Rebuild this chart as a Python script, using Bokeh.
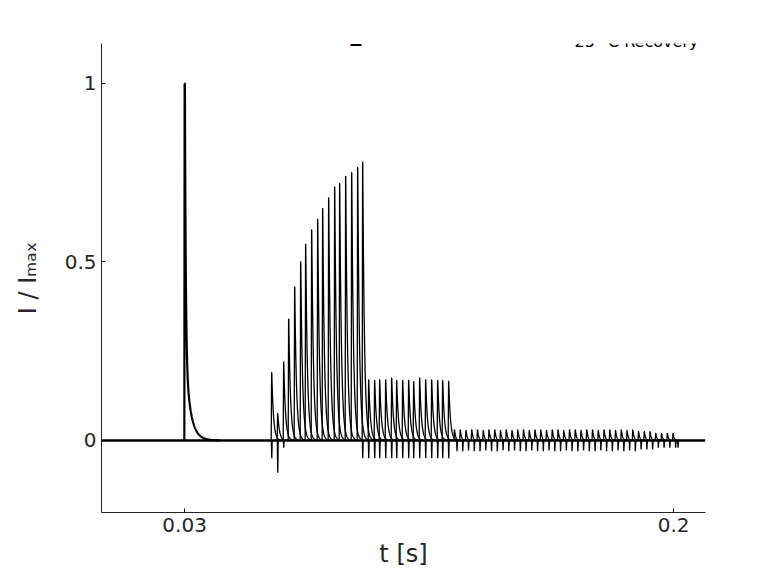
import numpy as np
from bokeh.plotting import figure
from bokeh.models import Label, FixedTicker
from bokeh.embed import file_html
from bokeh.resources import INLINE

# main (conditioning) pulse
main_time = [0.0300]
main_peak = [1.0]
# recovery test pulse peaks
rec_times = [0.06025, 0.06233, 0.06442, 0.06616, 0.06824, 0.07033, 0.07206, 0.07415, 0.07624,
             0.07797, 0.08006, 0.08215, 0.08388, 0.08597, 0.08806, 0.09014, 0.09188]
rec_peaks = [0.19, 0.076, 0.22, 0.34, 0.43, 0.50, 0.55, 0.59, 0.62,
             0.65, 0.68, 0.71, 0.72, 0.74, 0.75, 0.765, 0.78]
# second group of test pulses
sec_times = [0.09397, 0.09605, 0.09779, 0.09988, 0.10196, 0.1037, 0.10579, 0.10787,
             0.10961, 0.1117, 0.11378, 0.11587, 0.11796, 0.11969, 0.12178]
sec_peaks = [0.17, 0.168, 0.17, 0.17, 0.175, 0.168, 0.168, 0.168,
             0.165, 0.175, 0.17, 0.17, 0.168, 0.168, 0.166]
# negative transients
neg_times = [0.06025, 0.06233, 0.06442, 0.09188, 0.09397, 0.09605, 0.09779, 0.09988, 0.10196,
             0.1037, 0.10579, 0.10787, 0.10961, 0.1117, 0.11378, 0.11587, 0.11796, 0.11969,
             0.12178, 0.2015]
neg_peaks = [-0.05, -0.09, -0.02, -0.05, -0.05, -0.05, -0.05, -0.05, -0.05,
             -0.05, -0.05, -0.05, -0.05, -0.05, -0.05, -0.05, -0.05, -0.05,
             -0.05, -0.02]
# small late transients
small_times = [0.1238, 0.1258, 0.1278, 0.1298, 0.1318, 0.1338, 0.1358, 0.1378, 0.1398, 0.1418,
               0.1438, 0.1458, 0.1478, 0.1498, 0.1518, 0.1538, 0.1558, 0.1578, 0.1598, 0.1618,
               0.1638, 0.1658, 0.1678, 0.1698, 0.1718, 0.1738, 0.1758, 0.1778, 0.1798, 0.1818,
               0.1838, 0.1858, 0.1878, 0.1898, 0.1918, 0.1938, 0.1958, 0.1978, 0.1998]
small_peaks = [0.03, 0.03, 0.028, 0.03, 0.03, 0.028, 0.03, 0.03, 0.028, 0.03,
               0.028, 0.03, 0.03, 0.028, 0.03, 0.03, 0.028, 0.03, 0.03, 0.028,
               0.03, 0.03, 0.028, 0.03, 0.03, 0.028, 0.03, 0.03, 0.028, 0.03,
               0.028, 0.03, 0.025, 0.025, 0.025, 0.02, 0.02, 0.02, 0.02]

x_ticks = [0.03, 0.2]
y_ticks = [0, 0.5, 1]

p = figure(width=770, height=575, output_backend="svg", toolbar_location=None,
           x_range=(0.0011, 0.2111), y_range=(-0.2017, 1.112),
           min_border_left=101, min_border_right=65, min_border_top=43, min_border_bottom=63)
p.outline_line_color = None
p.grid.visible = False

def spike(t, pk, tau):
    tt = np.linspace(0, 6 * tau, 40)
    xs = [t - 0.00015, t] + list(t + tt + 0.00005)
    ys = [0.0, pk] + list(pk * np.exp(-tt / tau))
    return xs, ys

xs, ys = [], []
for t, pk in zip(rec_times + sec_times, rec_peaks + sec_peaks):
    a, b = spike(t, pk, 0.0006)
    xs.append(a); ys.append(b)
for t, pk in zip(small_times, small_peaks):
    a, b = spike(t, pk, 0.0004)
    xs.append(a); ys.append(b)
    xs.append([t + 0.0008, t + 0.0009, t + 0.0011]); ys.append([0, -pk, 0])
for t, pk in zip(neg_times, neg_peaks):
    xs.append([t - 0.0001, t + 0.00005, t + 0.0002]); ys.append([0, pk, 0])

p.line([0.0011, 0.2111], [0, 0], line_color="black", line_width=2.5)
p.multi_line(xs, ys, line_color="black", line_width=1.3)
t0, pk0 = main_time[0], main_peak[0]
tt = np.linspace(0, 0.012, 200)
mx = [t0 - 0.0001, t0] + list(t0 + tt + 0.0001)
my = [0.0, pk0] + list(pk0 * (0.75 * np.exp(-tt / 0.0003) + 0.25 * np.exp(-tt / 0.0018)))
p.line(mx, my, line_color="black", line_width=2.2)

p.xaxis.ticker = FixedTicker(ticks=x_ticks)
p.yaxis.ticker = FixedTicker(ticks=y_ticks)
p.xaxis.major_label_overrides = {0.03: "0.03", 0.2: "0.2"}
p.yaxis.major_label_overrides = {0: "0", 0.5: "0.5", 1: "1"}
for ax in (p.xaxis, p.yaxis):
    ax.major_label_text_font = "DejaVu Sans"
    ax.major_label_text_font_size = "20px"
    ax.major_label_text_color = "#262626"
    ax.axis_label_text_font = "DejaVu Sans"
    ax.axis_label_text_font_size = "24px"
    ax.axis_label_text_font_style = "normal"
    ax.axis_label_text_color = "#262626"
    ax.axis_line_color = "#262626"
    ax.major_tick_in = 4
    ax.major_tick_out = 0
    ax.minor_tick_line_color = None
p.xaxis.axis_label = "t [s]"
p.yaxis.axis_label = "I / I\u2098\u2090\u2093"
p.yaxis.axis_label_standoff = 20

p.add_layout(Label(x=0.00567, y=1.14, text="Nav1.5  Mouse  CHO_FT", text_font="DejaVu Sans",
                   text_baseline="middle",
                   text_font_size="22px", text_font_style="bold", text_color="black"))
p.add_layout(Label(x=0.2104, y=1.117, text="25 °C  Recovery", text_font="DejaVu Sans",
                   text_align="right", text_baseline="middle",
                   text_font_size="16px", text_color="black"))
p.add_layout(Label(x=0.2153, y=0.462, text="BBP Channelpedia ID 50493 rep 1",
                   text_font="DejaVu Sans", text_align="center", text_baseline="middle",
                   angle=np.pi / 2, text_font_size="12px", text_color="black"))

open("out.html", "w").write(file_html(p, INLINE))
